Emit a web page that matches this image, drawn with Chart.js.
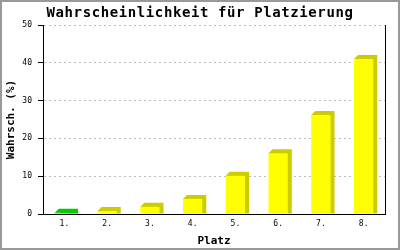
<!DOCTYPE html>
<html>
<head>
<meta charset="utf-8">
<script src="https://cdn.jsdelivr.net/npm/chart.js@4/dist/chart.umd.min.js"></script>
<style>
html,body{margin:0;padding:0;background:#fff;}
#wrap{width:400px;height:250px;position:relative;}
</style>
</head>
<body>
<div id="wrap"><canvas id="c" width="400" height="250"></canvas></div>
<script>
const titleText = 'Wahrscheinlichkeit für Platzierung';
const xTitle = 'Platz';
const yTitle = 'Wahrsch. (%)';
const categories = ['1.', '2.', '3.', '4.', '5.', '6.', '7.', '8.'];
const values = [0.3, 0.8, 1.9, 4.0, 10.1, 16.1, 26.2, 41.0];
const frontColors = ['#00ff00', '#ffff00', '#ffff00', '#ffff00', '#ffff00', '#ffff00', '#ffff00', '#ffff00'];
const depthColors = ['#00cc00', '#cccc00', '#cccc00', '#cccc00', '#cccc00', '#cccc00', '#cccc00', '#cccc00'];

const MONO = '"DejaVu Sans Mono", "Liberation Mono", monospace';

const depthPlugin = {
  id: 'depth3d',
  beforeDatasetsDraw(chart) {
    const ctx = chart.ctx;
    const meta = chart.getDatasetMeta(0);
    const d = 4;
    meta.data.forEach((bar, i) => {
      const p = bar.getProps(['x', 'y', 'base', 'width'], true);
      const x0 = p.x - p.width / 2, x1 = p.x + p.width / 2;
      const top = Math.min(p.y, p.base), base = Math.max(p.y, p.base);
      ctx.save();
      ctx.fillStyle = depthColors[i];
      ctx.beginPath();
      ctx.moveTo(x0, top);
      ctx.lineTo(x0 + d, top - d);
      ctx.lineTo(x1 + d, top - d);
      ctx.lineTo(x1 + d, base);
      ctx.lineTo(x1, base);
      ctx.closePath();
      ctx.fill();
      ctx.restore();
    });
  }
};

const frame = {
  id: 'frame',
  afterDraw(chart) {
    const ctx = chart.ctx;
    ctx.save();
    ctx.strokeStyle = '#999999';
    ctx.lineWidth = 2;
    ctx.strokeRect(1, 1, chart.width - 2, chart.height - 2);
    ctx.restore();
  }
};

const titleSpacing = {
  id: 'titleSpacing',
  afterUpdate(chart) {
    const tb = chart.titleBlock;
    if (tb && !tb._spaced) {
      const orig = tb.draw;
      tb.draw = function (...a) {
        const c = this.ctx;
        c.save();
        c.letterSpacing = '0.6px';
        orig.apply(this, a);
        c.restore();
      };
      tb._spaced = true;
    }
  }
};

new Chart(document.getElementById('c'), {
  type: 'bar',
  data: {
    labels: categories,
    datasets: [{
      data: values,
      backgroundColor: frontColors,
      borderWidth: 0,
      categoryPercentage: 1.0,
      barPercentage: 0.45
    }]
  },
  options: {
    responsive: false,
    animation: false,
    events: [],
    layout: { padding: { left: 0, right: 0, top: 0, bottom: 2 } },
    plugins: {
      legend: { display: false },
      tooltip: { enabled: false },
      title: {
        display: true,
        text: titleText,
        color: '#000',
        font: { family: MONO, size: 14, weight: 'bold', lineHeight: 1.2 },
        padding: { top: 5, bottom: 3.2 }
      }
    },
    scales: {
      x: {
        grid: { display: false, drawTicks: false },
        border: { display: true, color: '#000', width: 1 },
        ticks: { color: '#000', font: { family: MONO, size: 8 }, padding: 5, maxRotation: 0 },
        title: {
          display: true, text: xTitle, color: '#000',
          font: { family: MONO, size: 11, weight: 'bold', lineHeight: 1.2 },
          padding: { top: 0, bottom: 0 }
        },
        afterFit(s) { s.height = 34; }
      },
      y: {
        min: 0, max: 50,
        ticks: { stepSize: 10, color: '#000', font: { family: MONO, size: 8 }, padding: 6 },
        grid: {
          color: '#bbbbbb', lineWidth: 1,
          drawTicks: true, tickLength: 5, tickColor: '#000', tickBorderDash: [], tickWidth: 1
        },
        border: { display: true, color: '#000', width: 1, dash: [2, 3] },
        title: {
          display: true, text: yTitle, color: '#000',
          font: { family: MONO, size: 11, weight: 'bold', lineHeight: 1.2 },
          padding: { top: 5, bottom: 0 }
        },
        afterFit(s) { s.width = 43; }
      },
      y2: {
        position: 'right',
        min: 0, max: 50,
        ticks: { display: false },
        grid: { display: false, drawTicks: false },
        border: { display: true, color: '#000', width: 1 },
        afterFit(s) { s.width = 15; }
      }
    }
  },
  plugins: [depthPlugin, titleSpacing, frame]
});
</script>
</body>
</html>
